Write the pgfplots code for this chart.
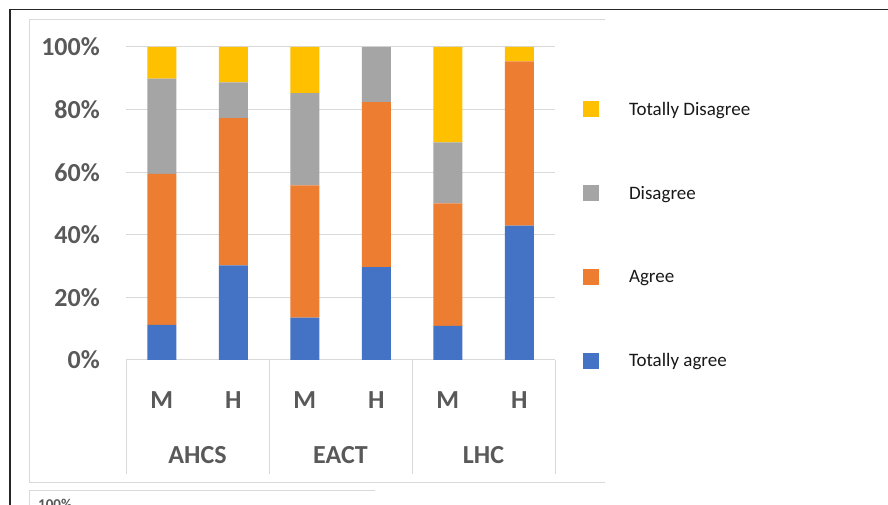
\documentclass[border=0pt]{standalone}
\usepackage{pgfplots}
\pgfplotsset{compat=1.18}
\usepackage{fontspec}
\setmainfont{Carlito}
\definecolor{cblue}{HTML}{4472C4}
\definecolor{corange}{HTML}{ED7D31}
\definecolor{cgray}{HTML}{A5A5A5}
\definecolor{cyellow}{HTML}{FFC000}
\definecolor{gridc}{HTML}{D9D9D9}
\definecolor{labc}{HTML}{595959}
\newcommand{\lblfont}{\fontsize{26}{26}\selectfont\bfseries}
\begin{document}
\begin{tikzpicture}
\path[use as bounding box] (0pt,0pt) rectangle (888pt,505pt);
\fill[white] (0pt,0pt) rectangle (888pt,505pt);
\draw[line width=1.7pt, black!85] (888pt,495.5pt) -- (10pt,495.5pt) -- (10pt,0pt);
\draw[gridc, line width=1pt] (605pt,485pt) -- (29pt,485pt) -- (29pt,22pt) -- (605pt,22pt);
\draw[gridc, line width=1pt] (375pt,14.5pt) -- (29.5pt,14.5pt) -- (29.5pt,0pt);
\begin{scope}
\clip (0pt,0pt) rectangle (888pt,505pt);
\node[anchor=north west, font=\fontsize{15}{15}\selectfont\bfseries, text=labc, inner sep=0pt] at (38pt,6pt) {100\%};
\end{scope}
\begin{axis}[
  at={(126pt,145pt)}, anchor=south west, scale only axis,
  width=429pt, height=313pt,
  ybar stacked, bar width=29pt,
  xmin=-0.5, xmax=5.5, ymin=0, ymax=100,
  xtick={0,1,2,3,4,5},
  xticklabels={M,H,M,H,M,H},
  ytick={0,20,40,60,80,100},
  yticklabels={0\%,20\%,40\%,60\%,80\%,100\%},
  axis line style={draw=none},
  major tick length=0pt,
  ymajorgrids, grid style={gridc, line width=1pt},
  yticklabel style={font=\lblfont, text=labc, inner sep=0pt, anchor=east, xshift=-26pt},
  xticklabel style={font=\lblfont, text=labc, inner sep=0pt, anchor=north, yshift=-31.7pt},
  clip=false,
  reverse legend,
  legend cell align=left,
  legend image code/.code={\fill[#1] (0pt,-2pt) rectangle (16pt,14pt);},
  legend style={draw=none, fill=none, inner sep=0pt, outer sep=0pt,
    at={(axis description cs:1.06527,0.8265)}, anchor=north west,
    font=\fontsize{19}{19}\selectfont, text=black!90,
    nodes={inner sep=0pt, text height=14pt, text depth=2pt, yshift=6pt},
    column sep=30pt, row sep=67.8pt},
]
\addplot[fill=cblue, draw=none] coordinates {(0,11.2) (1,30.2) (2,13.5) (3,29.7) (4,10.9) (5,42.9)};
\addlegendentry{Totally agree}
\addplot[fill=corange, draw=none] coordinates {(0,48.3) (1,47.1) (2,42.3) (3,52.7) (4,39.1) (5,52.5)};
\addlegendentry{Agree}
\addplot[fill=cgray, draw=none] coordinates {(0,30.4) (1,11.4) (2,29.5) (3,17.6) (4,19.5) (5,0)};
\addlegendentry{Disagree}
\addplot[fill=cyellow, draw=none] coordinates {(0,10.1) (1,11.3) (2,14.7) (3,0) (4,30.5) (5,4.6)};
\addlegendentry{Totally Disagree}
\foreach \xx in {-0.5,1.5,3.5,5.5} {
  \edef\tmp{\noexpand\draw[gridc, line width=1pt] (axis cs:\xx,0) -- ([yshift=-114pt]axis cs:\xx,0);}
  \tmp
}
\node[font=\lblfont, text=labc, inner sep=0pt, anchor=north, yshift=-86.7pt] at (axis cs:0.5,0) {AHCS};
\node[font=\lblfont, text=labc, inner sep=0pt, anchor=north, yshift=-86.7pt] at (axis cs:2.5,0) {EACT};
\node[font=\lblfont, text=labc, inner sep=0pt, anchor=north, yshift=-86.7pt] at (axis cs:4.5,0) {LHC};
\end{axis}
\end{tikzpicture}
\end{document}
